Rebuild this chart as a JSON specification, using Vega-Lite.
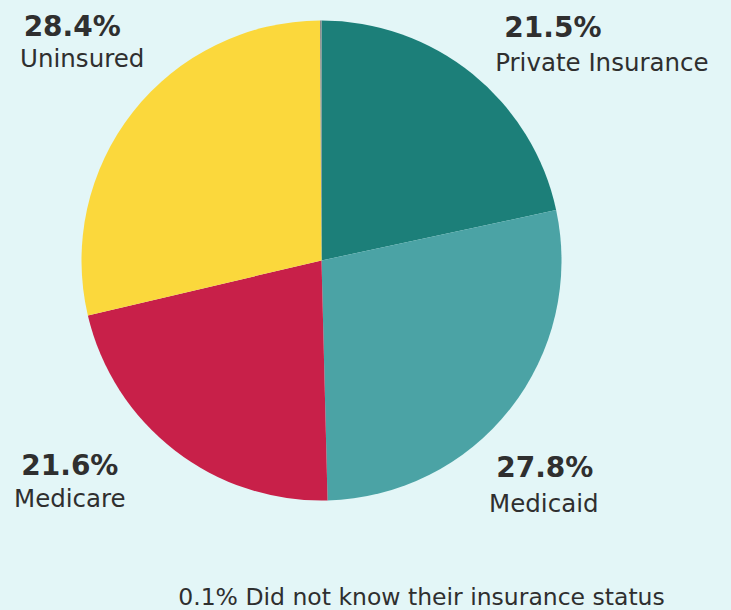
{
  "$schema": "https://vega.github.io/schema/vega-lite/v6.json",
  "width": 643,
  "height": 521,
  "autosize": {"type": "none"},
  "padding": {"left": 0, "top": 0, "right": 88, "bottom": 89},
  "background": "#e3f6f7",
  "config": {"view": {"stroke": null}},
  "data": {
    "values": [
      {"category": "Private Insurance", "percent": 21.5, "order": 1, "label": "21.5%", "note": ""},
      {"category": "Medicaid", "percent": 27.8, "order": 2, "label": "27.8%", "note": ""},
      {"category": "Medicare", "percent": 21.6, "order": 3, "label": "21.6%", "note": ""},
      {"category": "Uninsured", "percent": 28.4, "order": 4, "label": "28.4%", "note": ""},
      {"category": "Did not know", "percent": 0.1, "order": 5, "label": "0.1%", "note": "0.1% Did not know their insurance status"}
    ]
  },
  "encoding": {
    "theta": {"field": "percent", "type": "quantitative", "stack": true},
    "order": {"field": "order", "type": "quantitative"}
  },
  "layer": [
    {
      "mark": {"type": "arc", "outerRadius": 240},
      "encoding": {
        "color": {
          "field": "category",
          "type": "nominal",
          "scale": {
            "domain": ["Private Insurance", "Medicaid", "Medicare", "Uninsured", "Did not know"],
            "range": ["#1c7f79", "#4ba3a5", "#c82049", "#fbd83c", "#8a8a8a"]
          },
          "legend": null
        }
      }
    },
    {
      "mark": {"type": "text", "radius": 330, "dx": 24, "dy": 33, "align": "center", "baseline": "alphabetic", "font": "DejaVu Sans", "fontSize": 28, "fontWeight": "bold", "color": "#2f2f2f"},
      "encoding": {"text": {"condition": {"test": "datum.category === 'Private Insurance'", "field": "label"}, "value": ""}}
    },
    {
      "mark": {"type": "text", "radius": 330, "dx": 73, "dy": 67, "align": "center", "baseline": "alphabetic", "font": "DejaVu Sans", "fontSize": 24.5, "fontWeight": "normal", "color": "#2f2f2f"},
      "encoding": {"text": {"condition": {"test": "datum.category === 'Private Insurance'", "field": "category"}, "value": ""}}
    },
    {
      "mark": {"type": "text", "radius": 330, "dx": -36, "dy": 12, "align": "center", "baseline": "alphabetic", "font": "DejaVu Sans", "fontSize": 28, "fontWeight": "bold", "color": "#2f2f2f"},
      "encoding": {"text": {"condition": {"test": "datum.category === 'Medicaid'", "field": "label"}, "value": ""}}
    },
    {
      "mark": {"type": "text", "radius": 330, "dx": -37, "dy": 47, "align": "center", "baseline": "alphabetic", "font": "DejaVu Sans", "fontSize": 24.5, "fontWeight": "normal", "color": "#2f2f2f"},
      "encoding": {"text": {"condition": {"test": "datum.category === 'Medicaid'", "field": "category"}, "value": ""}}
    },
    {
      "mark": {"type": "text", "radius": 330, "dx": -50, "dy": -47, "align": "center", "baseline": "alphabetic", "font": "DejaVu Sans", "fontSize": 28, "fontWeight": "bold", "color": "#2f2f2f"},
      "encoding": {"text": {"condition": {"test": "datum.category === 'Medicare'", "field": "label"}, "value": ""}}
    },
    {
      "mark": {"type": "text", "radius": 330, "dx": -50, "dy": -15, "align": "center", "baseline": "alphabetic", "font": "DejaVu Sans", "fontSize": 24.5, "fontWeight": "normal", "color": "#2f2f2f"},
      "encoding": {"text": {"condition": {"test": "datum.category === 'Medicare'", "field": "category"}, "value": ""}}
    },
    {
      "mark": {"type": "text", "radius": 330, "dx": 10, "dy": -20, "align": "center", "baseline": "alphabetic", "font": "DejaVu Sans", "fontSize": 28, "fontWeight": "bold", "color": "#2f2f2f"},
      "encoding": {"text": {"condition": {"test": "datum.category === 'Uninsured'", "field": "label"}, "value": ""}}
    },
    {
      "mark": {"type": "text", "radius": 330, "dx": 20, "dy": 11, "align": "center", "baseline": "alphabetic", "font": "DejaVu Sans", "fontSize": 24.5, "fontWeight": "normal", "color": "#2f2f2f"},
      "encoding": {"text": {"condition": {"test": "datum.category === 'Uninsured'", "field": "category"}, "value": ""}}
    },
    {
      "mark": {"type": "text", "radius": 1, "dx": 100, "dy": 345, "align": "center", "baseline": "alphabetic", "font": "DejaVu Sans", "fontSize": 23.5, "fontWeight": "normal", "color": "#2f2f2f"},
      "encoding": {"text": {"field": "note", "type": "nominal"}}
    }
  ]
}
